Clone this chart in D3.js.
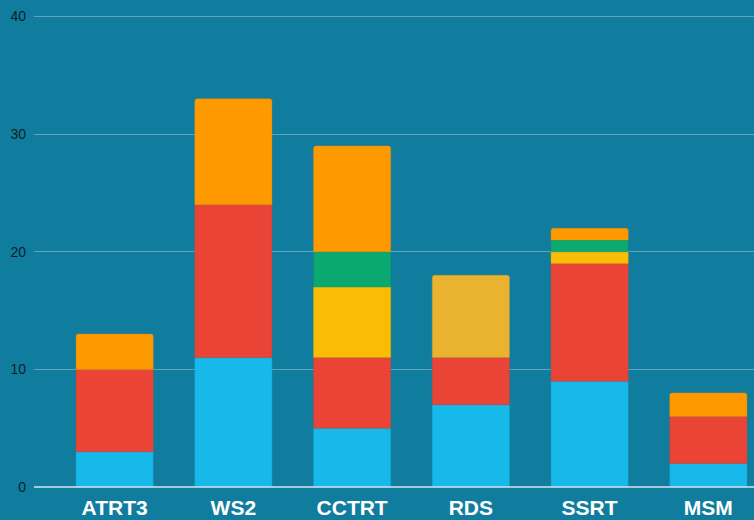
<!DOCTYPE html>
<html>
<head>
<meta charset="utf-8">
<script src="https://cdn.jsdelivr.net/npm/d3@7.9.0/dist/d3.min.js"></script>
<style>
  html, body { margin: 0; padding: 0; background: #107d9e; overflow: hidden; }
  svg { display: block; font-family: "Liberation Sans", Arial, sans-serif; }
</style>
</head>
<body>
<svg id="chart" width="754" height="520"></svg>
<script>
const categories = ['ATRT3', 'WS2', 'CCTRT', 'RDS', 'SSRT', 'MSM'];
const seriesNames = ['blue', 'red', 'yellow', 'green', 'gold', 'orange'];
const blueValues = [3, 11, 5, 7, 9, 2];
const redValues = [7, 13, 6, 4, 10, 4];
const yellowValues = [0, 0, 6, 0, 1, 0];
const greenValues = [0, 0, 3, 0, 1, 0];
const goldValues = [0, 0, 0, 7, 0, 0];
const orangeValues = [3, 9, 9, 0, 1, 2];
const yTicks = [0, 10, 20, 30, 40];

const seriesColors = {
    blue: '#16b9ea',
    red: '#ea4437',
    yellow: '#fbbc05',
    green: '#0ba86f',
    gold: '#e9b330',
    orange: '#fe9a00',
};

const valuesBySeries = {
    blue: blueValues,
    red: redValues,
    yellow: yellowValues,
    green: greenValues,
    gold: goldValues,
    orange: orangeValues,
};

const rows = categories.map((cat, i) => {
    const row = { category: cat };
    seriesNames.forEach((s) => { row[s] = valuesBySeries[s][i]; });
    return row;
});

const svg = d3.select('#chart');
const margin = { left: 34 };

const x = d3.scaleBand()
    .domain(categories)
    .range([margin.left, 789])
    .paddingInner(0.35)
    .paddingOuter(0.354);

const y = d3.scaleLinear()
    .domain([0, 40])
    .range([487, 16.5]);

// gridlines
svg.append('g')
    .selectAll('line')
    .data(yTicks.filter((t) => t > 0))
    .join('line')
    .attr('x1', margin.left)
    .attr('x2', 754)
    .attr('y1', (d) => Math.floor(y(d)) + 0.5)
    .attr('y2', (d) => Math.floor(y(d)) + 0.5)
    .attr('stroke', 'rgba(255,255,255,0.32)')
    .attr('stroke-width', 1);

// tick labels
svg.append('g')
    .selectAll('text')
    .data(yTicks)
    .join('text')
    .attr('x', 26)
    .attr('y', (d) => y(d))
    .attr('dy', '0.35em')
    .attr('text-anchor', 'end')
    .attr('fill', '#0a1f29')
    .attr('font-size', 14)
    .text((d) => d);

const stack = d3.stack().keys(seriesNames);
const layers = stack(rows);

// top non-empty layer per category gets the rounded corners
const topKey = {};
rows.forEach((r) => {
    seriesNames.forEach((s) => { if (r[s] > 0) topKey[r.category] = s; });
});

function segPath(x0, y0, w, h, rounded) {
    const r = rounded ? 2.5 : 0;
    return `M${x0},${y0 + h}V${y0 + r}Q${x0},${y0} ${x0 + r},${y0}H${x0 + w - r}Q${x0 + w},${y0} ${x0 + w},${y0 + r}V${y0 + h}Z`;
}

layers.forEach((layer) => {
    svg.append('g')
        .selectAll('path')
        .data(layer.filter((d) => d[1] - d[0] > 0))
        .join('path')
        .attr('d', (d) => segPath(
            x(d.data.category), y(d[1]), x.bandwidth(), y(d[0]) - y(d[1]),
            topKey[d.data.category] === layer.key,
        ))
        .attr('fill', seriesColors[layer.key])
        .attr('stroke', d3.color(seriesColors[layer.key]).darker(0.3))
        .attr('stroke-opacity', 0.45)
        .attr('stroke-width', 0.8);
});

// baseline
svg.append('line')
    .attr('x1', margin.left)
    .attr('x2', 754)
    .attr('y1', y(0))
    .attr('y2', y(0))
    .attr('stroke', '#cfe6ee')
    .attr('stroke-width', 1.6);

// category labels
svg.append('g')
    .selectAll('text')
    .data(categories)
    .join('text')
    .attr('x', (d) => x(d) + x.bandwidth() / 2)
    .attr('y', 514.5)
    .attr('text-anchor', 'middle')
    .attr('fill', '#ffffff')
    .attr('font-size', 21)
    .attr('font-weight', 'bold')
    .text((d) => d);
</script>
</body>
</html>
